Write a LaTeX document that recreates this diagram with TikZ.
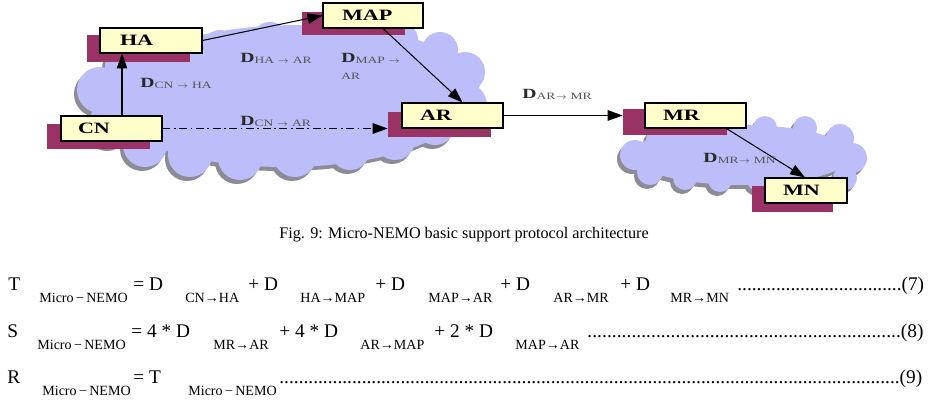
\documentclass[tikz,border=0pt]{standalone}
\usepackage{fontspec}
\setmainfont{Liberation Serif}
\newfontfamily\dfont{Liberation Serif}[FakeStretch=1.4]
\usetikzlibrary{arrows.meta,calc}
\definecolor{boxyellow}{RGB}{255,255,204}
\definecolor{maroonbox}{RGB}{153,51,102}
\definecolor{cloudfill}{RGB}{189,189,249}
\definecolor{cloudshade}{RGB}{140,140,150}
\definecolor{lbl}{RGB}{40,40,40}
\definecolor{sublbl}{RGB}{85,85,85}
\newcommand\sublab[1]{{\raisebox{-0.6pt}{\mdseries\fontsize{5.5}{6}\selectfont\color{sublbl}#1}}}
\newcommand\dotrow[1]{\hbox to #1{\xleaders\hbox{.}\hfill}}
\def\cloudA{(285,100) ellipse[x radius=3.65cm, y radius=1.34cm]
 (300,75) ellipse[x radius=3.3cm, y radius=1.0cm]
 (100,90) circle[radius=0.46cm] (110,125) circle[radius=0.44cm]
 (145,145) circle[radius=0.44cm] (190,155) circle[radius=0.44cm]
 (240,158) circle[radius=0.44cm] (295,155) circle[radius=0.44cm]
 (350,150) circle[radius=0.40cm] (395,140) circle[radius=0.40cm]
 (435,125) circle[radius=0.40cm] (465,105) circle[radius=0.44cm]
 (465,72) circle[radius=0.40cm] (440,50) circle[radius=0.36cm]
 (445,68) circle[radius=0.30cm]
 (400,40) circle[radius=0.36cm] (330,38) circle[radius=0.40cm]
 (270,40) circle[radius=0.36cm] (220,48) circle[radius=0.36cm]
 (130,65) circle[radius=0.50cm] (175,55) circle[radius=0.40cm]}
\def\cloudB{(742,155) ellipse[x radius=2.2cm, y radius=0.6cm]
 (635,155) circle[radius=0.30cm] (650,172) circle[radius=0.26cm]
 (685,178) circle[radius=0.24cm] (720,180) circle[radius=0.24cm]
 (760,178) circle[radius=0.28cm] (660,140) circle[radius=0.28cm]
 (765,128) circle[radius=0.24cm] (805,128) circle[radius=0.24cm]
 (840,138) circle[radius=0.28cm] (852,158) circle[radius=0.30cm]
 (845,178) circle[radius=0.24cm] (800,182) circle[radius=0.24cm]}
\tikzset{
  ybox/.style 2 args={draw=black, line width=0.6pt, fill=boxyellow, inner sep=0pt,
    minimum height=0.5cm, text width=#1, align=left,
    font=\dfont\bfseries\fontsize{9}{10}\selectfont},
  mbox/.style 2 args={fill=maroonbox, inner sep=0pt, minimum width=#1, minimum height=#2},
  arr/.style={-{Triangle[length=8.5pt,width=6pt]}, line width=0.6pt},
  dashdotline/.style={dash pattern=on 4.5pt off 2pt on 1pt off 2pt},
  dlbl/.style={anchor=base west, inner sep=0pt, text=lbl,
    font=\dfont\bfseries\fontsize{8}{9}\selectfont},
  eqm/.style={anchor=base west, inner sep=0pt, font=\fontsize{11}{13}\selectfont},
  eqs/.style={anchor=base west, inner sep=0pt, font=\fontsize{8}{9}\selectfont},
}
\begin{document}
\begin{tikzpicture}[x=0.02cm, y=-0.02cm]
\useasboundingbox (0,0) rectangle (939,406);
% clouds
\begin{scope}[shift={(-3,4)}]
  \fill[cloudshade] \cloudA;
  \fill[cloudshade] \cloudB;
\end{scope}
\fill[cloudfill] \cloudA;
\fill[cloudfill] \cloudB;
% shadow boxes
\node[mbox={2.06cm}{0.54cm}] (HAs) at (138.5,48.5) {};
\node[mbox={2.06cm}{0.46cm}] (MAPs) at (353.5,23.5) {};
\node[mbox={2.06cm}{0.5cm}] (CNs) at (98.5,136.5) {};
\node[mbox={2.06cm}{0.5cm}] (ARs) at (439.5,124.5) {};
\node[mbox={2.08cm}{0.52cm}] (MRs) at (675,122) {};
\node[mbox={1.62cm}{0.52cm}] (MNs) at (792.5,199) {};
% boxes
\node[ybox={2.04cm}{}] (HA) at (151,40.5) {\hspace*{0.4cm}HA};
\node[ybox={2.0cm}{}] (MAP) at (373,15.5) {\hspace*{0.38cm}MAP};
\node[ybox={2.02cm}{}] (CN) at (111.5,128.5) {\hspace*{0.34cm}CN};
\node[ybox={2.02cm}{}] (AR) at (452.5,115.5) {\hspace*{0.36cm}AR};
\node[ybox={2.02cm}{}] (MR) at (695.5,115.5) {\hspace*{0.36cm}MR};
\node[ybox={1.64cm}{}] (MN) at (806,190.5) {\hspace*{0.36cm}MN};
% connectors
\coordinate (cx) at (122,0);
\draw[arr] (CN.north -| cx) -- (HA.south -| cx);
\draw[arr] (HA.east) -- (MAP.west);
\draw[arr] ($(MAP.south)+(10,0)$) -- ($(AR.north)+(10,0)$);
\draw[arr, dashdotline] (CN.east) -- (CN.east -| ARs.west);
\draw[arr] (AR.east) -- (AR.east -| MRs.west);
\draw[arr] ($(MR.south)+(31,0)$) -- ($(MN.north)+(-1,0)$);
% delay labels
\node[dlbl] (lCNHA) at (140,87) {D\sublab{CN $\to$ HA}};
\node[dlbl] (lHAAR) at (240,62) {D\sublab{HA $\to$ AR}};
\node[dlbl] (lMAPAR) at (341,62) {\vtop{\baselineskip=9.6pt\hbox{D\sublab{MAP $\to$}}\hbox{\sublab{AR}}}};
\node[dlbl] (lCNAR) at (240,125) {D\sublab{CN $\to$ AR}};
\node[dlbl] (lARMR) at (522,98) {D\sublab{AR$\to$ MR}};
\node[dlbl] (lMRMN) at (703,162) {D\sublab{MR$\to$ MN}};
% caption
\node[anchor=base, inner sep=0pt, font=\fontsize{9.2}{11}\selectfont] (cap) at (464,238)
  {Fig. 9: Micro-NEMO basic support protocol architecture};
% equation 7
\node[eqm] (t0) at (8,290) {T};
\node[eqs] (t1) at (39,302) {Micro\,−\,NEMO};
\node[eqm] (t2) at (133,290) {= D};
\node[eqs] (t3) at (185,302) {CN→HA};
\node[eqm] (t4) at (248,290) {+ D};
\node[eqs] (t5) at (300,302) {HA→MAP};
\node[eqm] (t6) at (375,290) {+ D};
\node[eqs] (t7) at (428,302) {MAP→AR};
\node[eqm] (t8) at (500,290) {+ D};
\node[eqs] (t9) at (553,302) {AR→MR};
\node[eqm] (t10) at (620,290) {+ D};
\node[eqs] (t11) at (670,302) {MR→MN};
\node[eqm] (t12) at (737,290) {\dotrow{93.5pt}(7)};
% equation 8
\node[eqm] (s0) at (7,337) {S};
\node[eqs] (s1) at (37,349) {Micro\,−\,NEMO};
\node[eqm] (s2) at (131,337) {= 4 * D};
\node[eqs] (s3) at (213,349) {MR→AR};
\node[eqm] (s4) at (279,337) {+ 4 * D};
\node[eqs] (s5) at (360,349) {AR→MAP};
\node[eqm] (s6) at (434,337) {+ 2 * D};
\node[eqs] (s7) at (515,349) {MAP→AR};
\node[eqm] (s8) at (587,337) {\dotrow{178.5pt}(8)};
% equation 9
\node[eqm] (r0) at (7,383) {R};
\node[eqs] (r1) at (42,395) {Micro\,−\,NEMO};
\node[eqm] (r2) at (133,383) {= T};
\node[eqs] (r3) at (188,395) {Micro\,−\,NEMO};
\node[eqm] (r4) at (279,383) {\dotrow{353.1pt}(9)};
\end{tikzpicture}
\end{document}
